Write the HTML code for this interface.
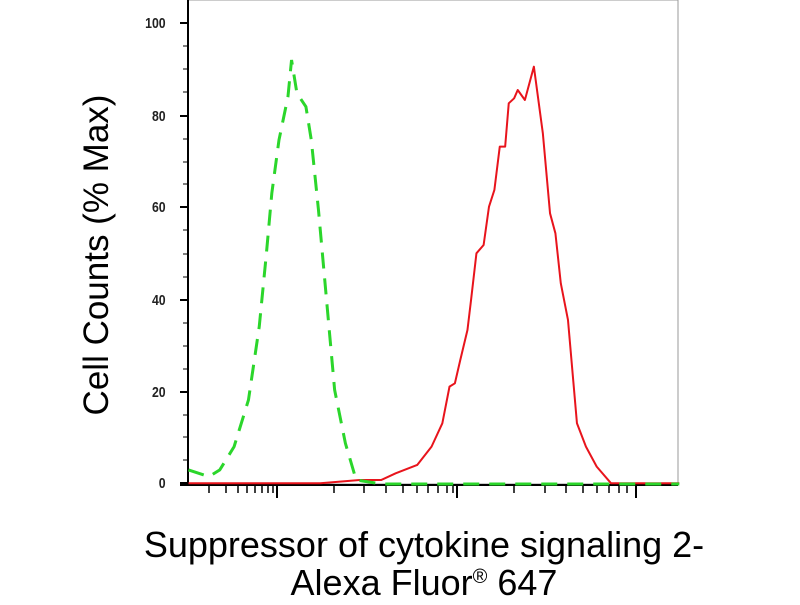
<!DOCTYPE html>
<html><head><style>
body{margin:0;background:#fff;width:800px;height:600px;overflow:hidden;font-family:"Liberation Sans",sans-serif}
</style></head><body>
<svg width="800" height="600" viewBox="0 0 800 600">
<rect x="188" y="0" width="490" height="484" fill="none" stroke="#999" stroke-width="1"/>
<line x1="188" y1="0" x2="188" y2="486" stroke="#000" stroke-width="2"/>
<line x1="180" y1="485" x2="678" y2="485" stroke="#000" stroke-width="2"/>
<g stroke="#000" stroke-width="2">
<line x1="180" y1="483" x2="188" y2="483"/><line x1="180" y1="392" x2="188" y2="392"/>
<line x1="180" y1="300" x2="188" y2="300"/><line x1="180" y1="207" x2="188" y2="207"/>
<line x1="180" y1="116" x2="188" y2="116"/><line x1="180" y1="23" x2="188" y2="23"/>
</g>
<g stroke="#000" stroke-width="1">
<line x1="183" y1="460" x2="188" y2="460"/><line x1="183" y1="437" x2="188" y2="437"/><line x1="183" y1="415" x2="188" y2="415"/>
<line x1="183" y1="369" x2="188" y2="369"/><line x1="183" y1="346" x2="188" y2="346"/><line x1="183" y1="323" x2="188" y2="323"/>
<line x1="183" y1="277" x2="188" y2="277"/><line x1="183" y1="254" x2="188" y2="254"/><line x1="183" y1="230" x2="188" y2="230"/>
<line x1="183" y1="184" x2="188" y2="184"/><line x1="183" y1="162" x2="188" y2="162"/><line x1="183" y1="139" x2="188" y2="139"/>
<line x1="183" y1="92" x2="188" y2="92"/><line x1="183" y1="69" x2="188" y2="69"/><line x1="183" y1="46" x2="188" y2="46"/>
</g>
<g font-size="15" font-weight="bold" text-anchor="end" fill="#222" transform="scale(0.82,1)">
<text x="202" y="488">0</text><text x="202" y="397">20</text><text x="202" y="305">40</text>
<text x="202" y="212">60</text><text x="202" y="121">80</text><text x="202" y="28">100</text>
</g>
<g stroke="#000" stroke-width="2">
<line x1="277" y1="485" x2="277" y2="498"/><line x1="457" y1="485" x2="457" y2="498"/><line x1="636" y1="485" x2="636" y2="498"/>
</g>
<g stroke="#000" stroke-width="1.5">
<line x1="209" y1="485" x2="209" y2="493"/><line x1="226" y1="485" x2="226" y2="493"/><line x1="238" y1="485" x2="238" y2="493"/>
<line x1="247" y1="485" x2="247" y2="493"/><line x1="255" y1="485" x2="255" y2="493"/><line x1="262" y1="485" x2="262" y2="493"/><line x1="268" y1="485" x2="268" y2="493"/><line x1="273" y1="485" x2="273" y2="493"/>
<line x1="334" y1="485" x2="334" y2="493"/><line x1="364" y1="485" x2="364" y2="493"/><line x1="386" y1="485" x2="386" y2="493"/>
<line x1="403" y1="485" x2="403" y2="493"/><line x1="417" y1="485" x2="417" y2="493"/><line x1="428" y1="485" x2="428" y2="493"/><line x1="438" y1="485" x2="438" y2="493"/><line x1="447" y1="485" x2="447" y2="493"/><line x1="453" y1="485" x2="453" y2="493"/>
<line x1="514" y1="485" x2="514" y2="493"/><line x1="545" y1="485" x2="545" y2="493"/><line x1="566" y1="485" x2="566" y2="493"/>
<line x1="583" y1="485" x2="583" y2="493"/><line x1="597" y1="485" x2="597" y2="493"/><line x1="609" y1="485" x2="609" y2="493"/><line x1="619" y1="485" x2="619" y2="493"/><line x1="627" y1="485" x2="627" y2="493"/>
</g>
<g transform="translate(130,0) scale(0.359,0.3333)" fill="none">
<polyline vector-effect="non-scaling-stroke" stroke="#e8141c" stroke-width="2" stroke-linejoin="round" points="163,1450 530,1450 640,1440 700,1440 740,1420 800,1395 840,1340 870,1270 890,1160 905,1150 920,1080 940,990 950,900 965,760 985,735 1000,620 1015,570 1030,440 1045,440 1055,310 1070,295 1080,270 1100,300 1125,200 1150,400 1170,640 1185,700 1200,850 1220,960 1245,1270 1270,1340 1300,1400 1340,1450 1530,1450"/>
<polyline vector-effect="non-scaling-stroke" stroke="#2bd62b" stroke-width="3" stroke-dasharray="16,10" points="163,1410 220,1430 250,1410 290,1340 330,1200 360,980 380,760 395,580 415,420 440,290 450,180 465,280 490,320 505,420 525,630 545,870 570,1170 600,1330 630,1440 700,1452 1530,1452"/>
</g>
<text transform="translate(108,255) rotate(-90)" font-size="35" text-anchor="middle" fill="#000">Cell Counts (% Max)</text>
<text x="424" y="557" font-size="36" text-anchor="middle" fill="#000">Suppressor of cytokine signaling 2-</text>
<text x="424" y="595" font-size="36" text-anchor="middle" fill="#000">Alexa Fluor<tspan font-size="20" dy="-12">®</tspan><tspan dy="12"> 647</tspan></text>
</svg>
</body></html>
